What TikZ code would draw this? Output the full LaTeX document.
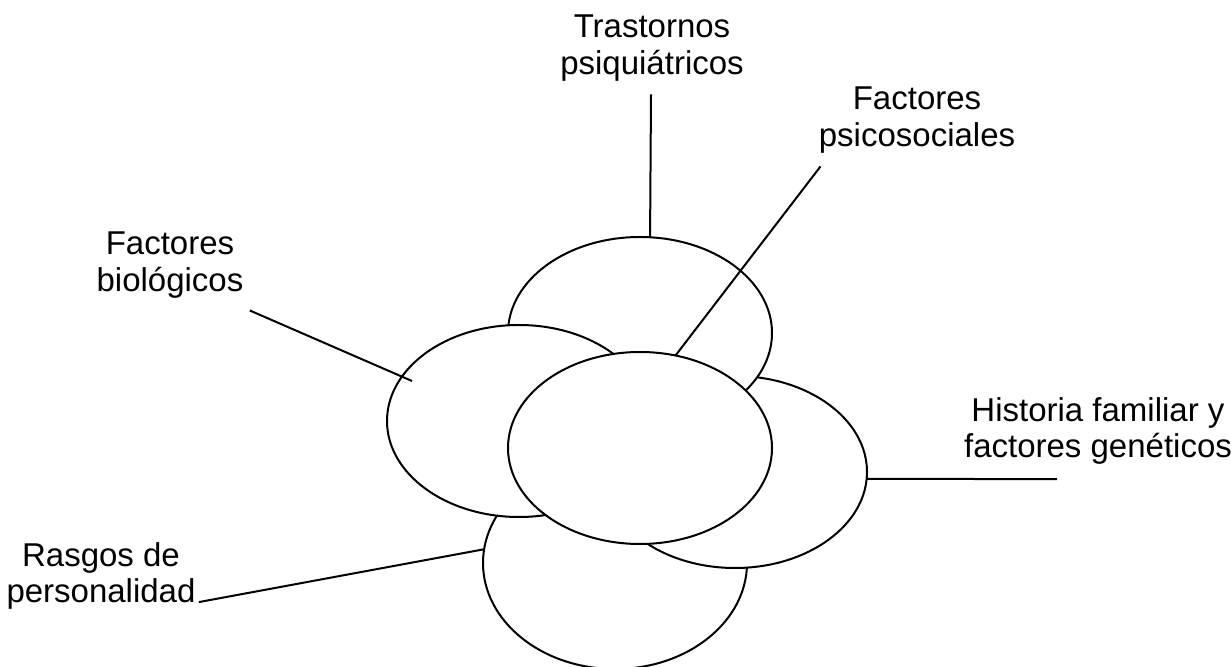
\documentclass[tikz,border=0pt]{standalone}
\usepackage{fontspec}
\setmainfont{Liberation Sans}
\usetikzlibrary{shapes.geometric,positioning}

\tikzset{
  petal/.style={ellipse, draw, fill=white, line width=1pt,
    minimum width=132pt, minimum height=96pt, inner sep=0pt, outer sep=0pt},
  tag/.style={align=center, font=\fontsize{16.5}{18.3}\selectfont, inner sep=0pt},
  lead/.style={line width=1pt}
}

\begin{document}
\begin{tikzpicture}[x=0.5pt,y=-0.5pt]
\useasboundingbox (0,0) rectangle (1231,667);

% petals, back to front
\node[petal, minimum height=106pt] (bot) at (615,563) {};
\node[petal] (rgt) at (735,472) {};
\node[petal] (top) at (640,333) {};
\node[petal] (lft) at (519,421) {};
\node[petal] (mid) at (640,448) {};

% labels
\node[tag] (trast) at (652,48) {Trastornos\\psiquiátricos};
\node[tag] (psico) at (917,120) {Factores\\psicosociales};
\node[tag] (biol) at (170,265) {Factores\\biológicos};
\node[tag] (hist) at (1098,431) {Historia familiar y\\factores genéticos};
\node[tag] (rasg) at (101,576) {Rasgos de\\personalidad};

% leader lines
\draw[lead] ([shift={(-1,13)}]trast.south) -- (top.84);
\draw[lead] ([shift={(2,13)}]psico.south west) -- (mid.69);
\draw[lead] ([shift={(6,12)}]biol.south east) -- ([shift={(-107,-40)}]lft.center);
\draw[lead] (rgt.-3) -- ([shift={(-41,14)}]hist.south);
\draw[lead] ([shift={(3,-8)}]rasg.south east) -- (bot.174);
\end{tikzpicture}
\end{document}
